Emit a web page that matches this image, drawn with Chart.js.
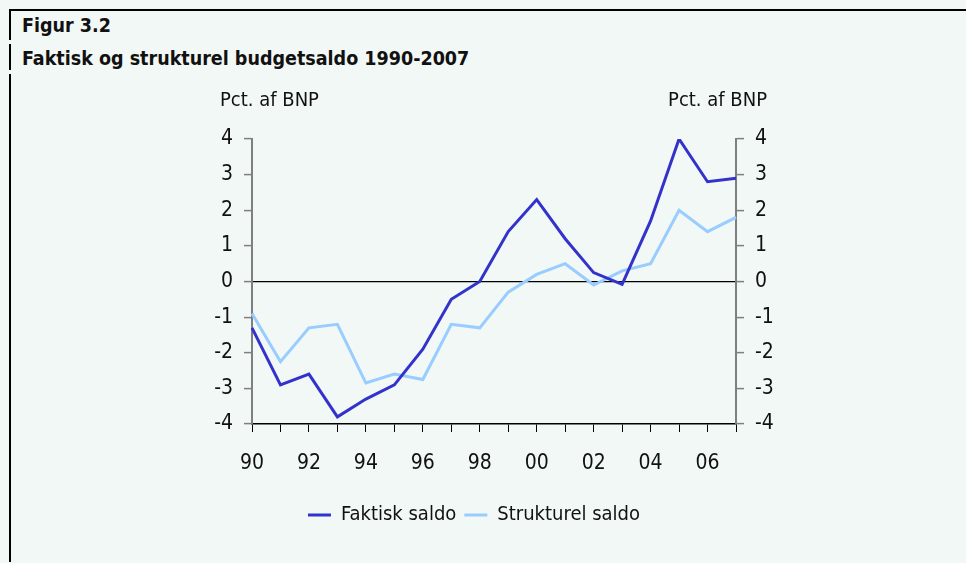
<!DOCTYPE html>
<html>
<head>
<meta charset="utf-8">
<script src="https://cdn.jsdelivr.net/npm/chart.js@4"></script>
<style>
    html, body { margin: 0; padding: 0; }
    body { width: 966px; height: 563px; background: #f1f8f5; position: relative; overflow: hidden;
           font-family: "Liberation Sans Narrow", "DejaVu Sans Condensed", "Liberation Sans", sans-serif; }
    .top-rule { position: absolute; left: 9px; top: 9px; width: 957px; height: 2px; background: #000; }
    .side-rule { position: absolute; left: 9px; width: 2px; background: #000; }
    .title { position: absolute; left: 22px; font-weight: bold; font-size: 19.5px; color: #111; white-space: nowrap; }
    #chart { position: absolute; left: 0; top: 0; }
</style>
</head>
<body>
<div class="top-rule"></div>
<div class="side-rule" style="top: 11px; height: 29px;"></div>
<div class="side-rule" style="top: 44px; height: 26px;"></div>
<div class="side-rule" style="top: 74px; height: 488px;"></div>
<div class="title" style="top: 14px;">Figur 3.2</div>
<div class="title" style="top: 47px;">Faktisk og strukturel budgetsaldo 1990-2007</div>
<canvas id="chart" width="966" height="563"></canvas>
<script>
const years = [1990, 1991, 1992, 1993, 1994, 1995, 1996, 1997, 1998, 1999,
               2000, 2001, 2002, 2003, 2004, 2005, 2006, 2007];
const faktiskSaldo = [-1.3, -2.9, -2.6, -3.8, -3.3, -2.9, -1.9, -0.5, 0.0, 1.4,
                      2.3, 1.2, 0.25, -0.08, 1.7, 4.0, 2.8, 2.9];
const strukturelSaldo = [-0.9, -2.25, -1.3, -1.2, -2.85, -2.6, -2.75, -1.2, -1.3, -0.3,
                         0.2, 0.5, -0.1, 0.3, 0.5, 2.0, 1.4, 1.8];
const axisUnit = 'Pct. af BNP';

const FONT = '"Liberation Sans Narrow", "DejaVu Sans Condensed", "Liberation Sans", sans-serif';

// draws the unit text above both y axes
const unitLabels = {
    id: 'unitLabels',
    afterDraw(chart) {
        const ctx = chart.ctx;
        const area = chart.chartArea;
        ctx.save();
        ctx.font = '20px ' + FONT;
        ctx.fillStyle = '#111';
        ctx.textBaseline = 'middle';
        ctx.textAlign = 'left';
        ctx.fillText(axisUnit, area.left - 32, 101);
        ctx.textAlign = 'right';
        ctx.fillText(axisUnit, area.right + 31, 101);
        ctx.restore();
    }
};

// legend in the original sits a bit left of the canvas centre
const legendShift = {
    id: 'legendShift',
    afterLayout(chart) {
        if (chart.legend) {
            chart.legend.left -= 20;
            chart.legend.right -= 20;
        }
    }
};

const yAxis = (position) => ({
    type: 'linear',
    position: position,
    min: -4,
    max: 4,
    afterFit: (scale) => { scale.width = 40; },
    ticks: {
        stepSize: 1,
        color: '#111',
        padding: 11,
        font: { family: FONT, size: 21 }
    },
    grid: {
        drawOnChartArea: position === 'left',
        color: (c) => (c.tick && c.tick.value === 0 ? '#000' : 'rgba(0,0,0,0)'),
        lineWidth: 1.2,
        tickColor: '#7f7f7f',
        tickLength: 8,
        tickWidth: 1.5
    },
    border: { color: '#7f7f7f', width: 2 }
});

new Chart(document.getElementById('chart').getContext('2d'), {
    type: 'line',
    data: {
        labels: years,
        datasets: [{
            label: 'Faktisk saldo',
            data: faktiskSaldo,
            borderColor: '#3333cc',
            backgroundColor: '#3333cc',
            borderWidth: 3,
            pointRadius: 0,
            tension: 0,
            yAxisID: 'y'
        }, {
            label: 'Strukturel saldo',
            data: strukturelSaldo,
            borderColor: '#99ccff',
            backgroundColor: '#99ccff',
            borderWidth: 3,
            pointRadius: 0,
            tension: 0,
            yAxisID: 'y2'
        }]
    },
    options: {
        responsive: false,
        animation: false,
        layout: { padding: { top: 139, left: 212, right: 190, bottom: 28 } },
        plugins: {
            title: { display: false },
            tooltip: { enabled: false },
            legend: {
                display: true,
                position: 'bottom',
                labels: {
                    usePointStyle: true,
                    pointStyle: 'line',
                    pointStyleWidth: 23,
                    padding: 8,
                    color: '#111',
                    font: { family: FONT, size: 20 }
                }
            }
        },
        scales: {
            x: {
                type: 'category',
                offset: false,
                afterFit: (scale) => { scale.height = 73; },
                ticks: {
                    autoSkip: false,
                    maxRotation: 0,
                    padding: 19,
                    color: '#111',
                    font: { family: FONT, size: 21 },
                    callback: function (value, index) {
                        const y = years[index];
                        return (y % 2 === 0 && y < 2007) ? String(y).slice(2) : '';
                    }
                },
                grid: {
                    drawOnChartArea: false,
                    tickColor: '#000',
                    tickLength: 8,
                    tickWidth: 1
                },
                border: { color: '#000', width: 1.5 }
            },
            y: yAxis('left'),
            y2: yAxis('right')
        }
    },
    plugins: [unitLabels, legendShift]
});
</script>
</body>
</html>
